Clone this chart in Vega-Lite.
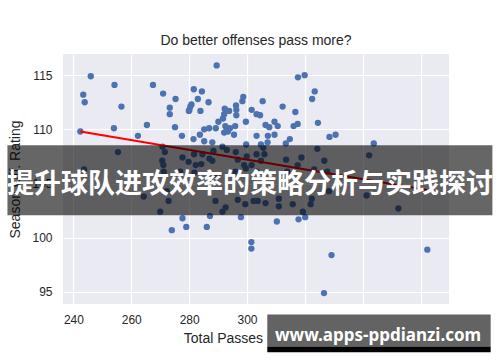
{
  "$schema": "https://vega.github.io/schema/vega-lite/v6.json",
  "width": 386,
  "height": 250,
  "autosize": {"type": "none"},
  "padding": {"left": 63, "top": 54, "right": 51, "bottom": 58},
  "background": "white",
  "title": {"text": "Do better offenses pass more?", "offset": 6},
  "datasets": {
    "teams": [
      {"passes": 242.4, "rating": 109.8}, {"passes": 243.4, "rating": 113.2}, {"passes": 243.9, "rating": 112.5},
      {"passes": 246.0, "rating": 114.9}, {"passes": 254.2, "rating": 114.1}, {"passes": 256.6, "rating": 112.1},
      {"passes": 254.0, "rating": 110.1}, {"passes": 262.3, "rating": 109.4}, {"passes": 265.4, "rating": 110.4},
      {"passes": 267.5, "rating": 114.1}, {"passes": 271.0, "rating": 113.3}, {"passes": 273.3, "rating": 112.0},
      {"passes": 273.3, "rating": 111.4}, {"passes": 275.3, "rating": 112.8}, {"passes": 275.1, "rating": 110.2},
      {"passes": 277.5, "rating": 109.4}, {"passes": 280.1, "rating": 111.8}, {"passes": 280.4, "rating": 112.1},
      {"passes": 280.8, "rating": 112.3}, {"passes": 279.9, "rating": 111.7}, {"passes": 281.6, "rating": 113.7},
      {"passes": 283.0, "rating": 112.8}, {"passes": 284.4, "rating": 113.5}, {"passes": 283.9, "rating": 111.7},
      {"passes": 286.7, "rating": 112.5}, {"passes": 289.5, "rating": 115.9}, {"passes": 281.5, "rating": 109.1},
      {"passes": 283.7, "rating": 109.5}, {"passes": 285.2, "rating": 110.0}, {"passes": 286.9, "rating": 110.1},
      {"passes": 289.2, "rating": 110.1}, {"passes": 290.1, "rating": 110.7}, {"passes": 291.7, "rating": 111.0},
      {"passes": 292.3, "rating": 111.9}, {"passes": 293.8, "rating": 111.7}, {"passes": 292.1, "rating": 111.4},
      {"passes": 292.5, "rating": 110.3}, {"passes": 293.0, "rating": 110.0}, {"passes": 294.1, "rating": 110.1},
      {"passes": 292.1, "rating": 109.7}, {"passes": 293.4, "rating": 109.8}, {"passes": 295.9, "rating": 110.3},
      {"passes": 295.5, "rating": 109.5}, {"passes": 296.2, "rating": 112.2}, {"passes": 296.3, "rating": 111.8},
      {"passes": 296.3, "rating": 111.3}, {"passes": 298.4, "rating": 112.6}, {"passes": 298.7, "rating": 113.0},
      {"passes": 299.6, "rating": 110.7}, {"passes": 301.6, "rating": 111.8}, {"passes": 303.3, "rating": 111.4},
      {"passes": 304.5, "rating": 111.3}, {"passes": 305.4, "rating": 112.6}, {"passes": 303.3, "rating": 109.4},
      {"passes": 306.4, "rating": 110.4}, {"passes": 307.7, "rating": 110.2}, {"passes": 307.2, "rating": 109.4},
      {"passes": 309.5, "rating": 109.5}, {"passes": 309.5, "rating": 110.7}, {"passes": 310.6, "rating": 110.3},
      {"passes": 312.3, "rating": 112.1}, {"passes": 314.8, "rating": 109.1}, {"passes": 316.7, "rating": 111.6},
      {"passes": 316.1, "rating": 110.3}, {"passes": 317.5, "rating": 110.5}, {"passes": 317.6, "rating": 114.8},
      {"passes": 319.9, "rating": 115.0}, {"passes": 322.5, "rating": 112.8}, {"passes": 323.4, "rating": 113.5},
      {"passes": 324.5, "rating": 110.6}, {"passes": 328.5, "rating": 109.3}, {"passes": 330.6, "rating": 109.5},
      {"passes": 313.4, "rating": 108.7}, {"passes": 299.7, "rating": 108.6}, {"passes": 307.1, "rating": 108.8},
      {"passes": 304.8, "rating": 108.6}, {"passes": 288.0, "rating": 108.8}, {"passes": 285.2, "rating": 108.9},
      {"passes": 343.8, "rating": 108.7}, {"passes": 342.2, "rating": 107.6}, {"passes": 324.3, "rating": 108.2},
      {"passes": 326.7, "rating": 107.1}, {"passes": 327.7, "rating": 106.1}, {"passes": 255.4, "rating": 107.9},
      {"passes": 243.7, "rating": 106.3}, {"passes": 270.8, "rating": 108.4}, {"passes": 271.6, "rating": 107.9},
      {"passes": 270.7, "rating": 107.1}, {"passes": 271.1, "rating": 106.7}, {"passes": 277.7, "rating": 107.4},
      {"passes": 281.7, "rating": 107.7}, {"passes": 284.6, "rating": 107.7}, {"passes": 279.8, "rating": 107.0},
      {"passes": 282.3, "rating": 106.7}, {"passes": 284.2, "rating": 106.8}, {"passes": 288.0, "rating": 107.1},
      {"passes": 287.0, "rating": 107.3}, {"passes": 291.5, "rating": 108.4}, {"passes": 293.0, "rating": 108.1},
      {"passes": 296.1, "rating": 107.9}, {"passes": 296.8, "rating": 107.2}, {"passes": 299.9, "rating": 107.5},
      {"passes": 301.6, "rating": 106.7}, {"passes": 303.3, "rating": 107.7}, {"passes": 305.6, "rating": 108.3},
      {"passes": 306.0, "rating": 107.7}, {"passes": 313.5, "rating": 107.2}, {"passes": 318.8, "rating": 107.4},
      {"passes": 317.5, "rating": 106.7}, {"passes": 352.3, "rating": 102.7}, {"passes": 341.3, "rating": 103.9},
      {"passes": 276.9, "rating": 106.1}, {"passes": 271.2, "rating": 106.1}, {"passes": 281.8, "rating": 106.0},
      {"passes": 289.7, "rating": 105.7}, {"passes": 296.0, "rating": 106.1}, {"passes": 299.6, "rating": 106.4},
      {"passes": 303.3, "rating": 106.1}, {"passes": 313.9, "rating": 106.1}, {"passes": 328.3, "rating": 104.3},
      {"passes": 264.3, "rating": 103.8}, {"passes": 272.9, "rating": 103.4}, {"passes": 270.0, "rating": 102.4},
      {"passes": 289.1, "rating": 103.4}, {"passes": 291.5, "rating": 102.4}, {"passes": 292.6, "rating": 102.8},
      {"passes": 296.8, "rating": 103.5}, {"passes": 299.4, "rating": 103.1}, {"passes": 302.3, "rating": 103.4},
      {"passes": 303.7, "rating": 103.4}, {"passes": 306.4, "rating": 103.2}, {"passes": 311.0, "rating": 103.6},
      {"passes": 315.8, "rating": 103.1}, {"passes": 319.3, "rating": 102.4}, {"passes": 322.0, "rating": 103.1},
      {"passes": 322.4, "rating": 103.6}, {"passes": 311.0, "rating": 102.9}, {"passes": 272.3, "rating": 104.3},
      {"passes": 288.4, "rating": 108.0}, {"passes": 304.8, "rating": 107.1}, {"passes": 299.0, "rating": 106.7},
      {"passes": 323.2, "rating": 106.3}, {"passes": 277.7, "rating": 101.8}, {"passes": 274.0, "rating": 100.7},
      {"passes": 279.0, "rating": 101.0}, {"passes": 286.1, "rating": 101.0}, {"passes": 287.2, "rating": 102.0},
      {"passes": 297.9, "rating": 101.9}, {"passes": 310.3, "rating": 101.5}, {"passes": 317.8, "rating": 101.7},
      {"passes": 320.1, "rating": 101.9}, {"passes": 301.5, "rating": 99.6}, {"passes": 301.5, "rating": 99.0},
      {"passes": 329.2, "rating": 98.4}, {"passes": 362.3, "rating": 98.9}, {"passes": 326.6, "rating": 94.9}
    ],
    "fit": [
      {"passes": 242.4, "rating": 109.8},
      {"passes": 362.3, "rating": 104.4}
    ],
    "banner": [{"label": "提升球队进攻效率的策略分析与实践探讨"}],
    "mark": [{"label": "www.apps-ppdianzi.com"}]
  },
  "layer": [
    {
      "data": {"name": "teams"},
      "mark": {"type": "circle", "size": 40, "opacity": 1, "color": "#4C72B0"},
      "encoding": {
        "x": {
          "field": "passes", "type": "quantitative",
          "scale": {"domain": [236.4, 369.8], "nice": false, "zero": false},
          "axis": {"values": [240, 260, 280, 300, 320, 340, 360], "title": "Total Passes per Game", "labelPadding": 10, "titlePadding": 6}
        },
        "y": {
          "field": "rating", "type": "quantitative",
          "scale": {"domain": [93.89, 116.95], "nice": false, "zero": false},
          "axis": {"values": [95, 100, 105, 110, 115], "title": "Season Off. Rating", "labelPadding": 11, "titlePadding": 9}
        }
      }
    },
    {
      "data": {"name": "fit"},
      "mark": {"type": "line", "color": "#FF0000", "strokeWidth": 2},
      "encoding": {
        "x": {"field": "passes", "type": "quantitative"},
        "y": {"field": "rating", "type": "quantitative"}
      }
    },
    {
      "data": {"name": "banner"},
      "mark": {"type": "rect", "color": "#000000", "opacity": 0.6},
      "encoding": {
        "x": {"datum": 217.2}, "x2": {"datum": 384.8},
        "y": {"datum": 108.53}, "y2": {"datum": 102.08}
      }
    },
    {
      "data": {"name": "banner"},
      "mark": {"type": "text", "color": "white", "font": "Noto Sans CJK SC", "fontWeight": "bold", "fontSize": 27, "align": "center", "baseline": "middle"},
      "encoding": {
        "x": {"datum": 301.0}, "y": {"datum": 104.9},
        "text": {"field": "label"}
      }
    },
    {
      "data": {"name": "mark"},
      "mark": {"type": "rect", "color": "#636363", "opacity": 1},
      "encoding": {
        "x": {"datum": 307.0}, "x2": {"datum": 384.2},
        "y": {"datum": 92.91}, "y2": {"datum": 89.98}
      }
    },
    {
      "data": {"name": "mark"},
      "mark": {"type": "rect", "color": "#000000", "opacity": 1},
      "encoding": {
        "x": {"datum": 307.0}, "x2": {"datum": 384.2},
        "y": {"datum": 89.98}, "y2": {"datum": 89.43}
      }
    },
    {
      "data": {"name": "mark"},
      "mark": {"type": "text", "color": "white", "font": "Noto Sans", "fontWeight": "bold", "fontSize": 17, "align": "center", "baseline": "alphabetic"},
      "encoding": {
        "x": {"datum": 345.3}, "y": {"datum": 90.44},
        "text": {"field": "label"}
      }
    }
  ],
  "config": {
    "view": {"fill": "#EAEAF2", "stroke": null},
    "font": "Liberation Sans",
    "axis": {
      "grid": true, "gridColor": "#FFFFFF", "gridWidth": 1.2,
      "domain": false, "ticks": false, "tickSize": 0,
      "labelFontSize": 12, "labelColor": "#262626",
      "titleFontSize": 14, "titleFontWeight": "normal", "titleColor": "#262626"
    },
    "title": {"fontSize": 14, "fontWeight": "normal", "color": "#262626"}
  }
}
